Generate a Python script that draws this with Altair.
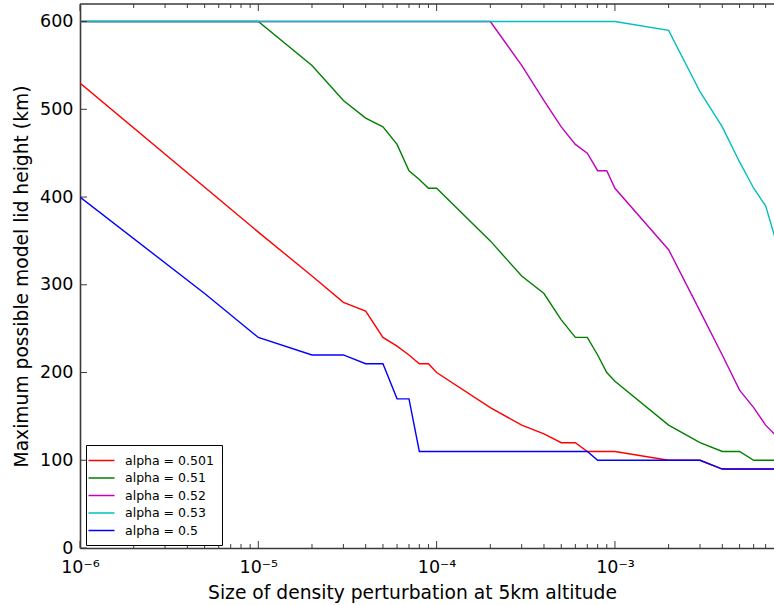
import altair as alt
import pandas as pd

# ---------------- data ----------------
series_names = ["alpha = 0.501", "alpha = 0.51", "alpha = 0.52", "alpha = 0.53", "alpha = 0.5"]
series_colors = ["#ff0000", "#008000", "#bf00bf", "#00bfbf", "#0000ff"]

red_x = [1e-6, 1e-5, 2e-5, 3e-5, 4e-5, 5e-5, 6e-5, 7e-5, 8e-5, 9e-5, 1e-4, 2e-4, 3e-4, 4e-4,
         5e-4, 6e-4, 7e-4, 8e-4, 9e-4, 1e-3, 2e-3, 3e-3, 4e-3, 8e-3]
red_y = [530, 360, 310, 280, 270, 240, 230, 220, 210, 210, 200, 160, 140, 130,
         120, 120, 110, 110, 110, 110, 100, 100, 90, 90]

green_x = [1e-6, 1e-5, 2e-5, 3e-5, 4e-5, 5e-5, 6e-5, 7e-5, 8e-5, 9e-5, 1e-4, 2e-4, 3e-4, 4e-4,
           5e-4, 6e-4, 7e-4, 8e-4, 9e-4, 1e-3, 2e-3, 3e-3, 4e-3, 5e-3, 6e-3, 8e-3]
green_y = [600, 600, 550, 510, 490, 480, 460, 430, 420, 410, 410, 350, 310, 290,
           260, 240, 240, 220, 200, 190, 140, 120, 110, 110, 100, 100]

magenta_x = [1e-6, 2e-4, 3e-4, 4e-4, 5e-4, 6e-4, 7e-4, 8e-4, 9e-4, 1e-3, 2e-3, 3e-3, 4e-3,
             5e-3, 6e-3, 7e-3, 8e-3]
magenta_y = [600, 600, 550, 510, 480, 460, 450, 430, 430, 410, 340, 270, 220,
             180, 160, 140, 128]

cyan_x = [1e-6, 1e-3, 2e-3, 3e-3, 4e-3, 5e-3, 6e-3, 7e-3, 8e-3]
cyan_y = [600, 600, 590, 520, 480, 440, 410, 390, 350]

blue_x = [1e-6, 5e-6, 1e-5, 2e-5, 3e-5, 4e-5, 5e-5, 6e-5, 7e-5, 8e-5, 7e-4, 8e-4, 3e-3, 4e-3, 8e-3]
blue_y = [400, 290, 240, 220, 220, 210, 210, 170, 170, 110, 110, 100, 100, 90, 90]

x_major_ticks = [1e-6, 1e-5, 1e-4, 1e-3]
x_tick_labels = ["10\u207b\u2076", "10\u207b\u2075", "10\u207b\u2074", "10\u207b\u00b3"]
x_minor_ticks = [k * d for d in [1e-6, 1e-5, 1e-4, 1e-3] for k in range(2, 10) if k * d <= 0.0078]
y_ticks = [0, 100, 200, 300, 400, 500, 600]

rows = []
for name, xs, ys in zip(series_names,
                        [red_x, green_x, magenta_x, cyan_x, blue_x],
                        [red_y, green_y, magenta_y, cyan_y, blue_y]):
    for xv, yv in zip(xs, ys):
        rows.append({"series": name, "x": xv, "y": yv})
df = pd.DataFrame(rows)

# ---------------- chart ----------------
W, H = 694, 544
FONT = "DejaVu Sans"
AX = "#3a3a3a"

xscale = alt.Scale(type="log", domain=[1e-6, 0.0078])
yscale = alt.Scale(domain=[0, 620])

label_expr = " : ".join(
    [f"datum.value < {v * 3:.0e} ? '{lab}'" for v, lab in zip(x_major_ticks[:-1], x_tick_labels[:-1])]
) + f" : '{x_tick_labels[-1]}'"

lines = alt.Chart(df).mark_line(strokeWidth=1.4, clip=True).encode(
    x=alt.X("x:Q", scale=xscale,
            axis=alt.Axis(values=x_major_ticks, labelExpr=label_expr, tickSize=0,
                          domainColor=AX, domainWidth=1.6, grid=False,
                          labelFont=FONT, labelFontSize=17.5, labelColor="black",
                          labelPadding=10, labelFlush=False, labelOverlap=False,
                          title="Size of density perturbation at 5km altitude",
                          titleFont=FONT, titleFontSize=18.7, titleFontWeight="normal",
                          titleColor="black", titleX=332, titleY=50,
                          titleAlign="center", titleBaseline="alphabetic")),
    y=alt.Y("y:Q", scale=yscale,
            axis=alt.Axis(values=y_ticks, tickSize=0, domainColor=AX, domainWidth=1.6,
                          grid=False, labelFont=FONT, labelFontSize=17.5, labelColor="black",
                          labelPadding=7, labelFlush=False, labelOverlap=False,
                          title="Maximum possible model lid height (km)",
                          titleFont=FONT, titleFontSize=18.7, titleFontWeight="normal",
                          titleColor="black", titleX=-53, titleY=272, titleAngle=270,
                          titleAlign="center", titleBaseline="alphabetic")),
    color=alt.Color("series:N",
                    scale=alt.Scale(domain=series_names, range=series_colors),
                    legend=alt.Legend(title=None, orient="none", legendX=6, legendY=441,
                                      symbolType="M-2,0L2,0", symbolSize=169,
                                      symbolStrokeWidth=1.5, labelFont=FONT,
                                      labelFontSize=12.5, labelColor="black",
                                      labelOffset=16, rowPadding=3.5, padding=8,
                                      strokeColor="black", fillColor="white",
                                      cornerRadius=0)),
)

tick_major_df = pd.DataFrame({"x": x_major_ticks})
tick_minor_df = pd.DataFrame({"x": x_minor_ticks})
ytick_df = pd.DataFrame({"y": y_ticks})

xb_major = alt.Chart(tick_major_df).mark_rule(color=AX, strokeWidth=1).encode(
    x=alt.X("x:Q", scale=xscale), y=alt.value(H), y2=alt.value(H - 7))
xb_minor = alt.Chart(tick_minor_df).mark_rule(color=AX, strokeWidth=1).encode(
    x=alt.X("x:Q", scale=xscale), y=alt.value(H), y2=alt.value(H - 4))
xt_major = alt.Chart(tick_major_df).mark_rule(color=AX, strokeWidth=1).encode(
    x=alt.X("x:Q", scale=xscale), y=alt.value(0), y2=alt.value(7))
xt_minor = alt.Chart(tick_minor_df).mark_rule(color=AX, strokeWidth=1).encode(
    x=alt.X("x:Q", scale=xscale), y=alt.value(0), y2=alt.value(4))
yl = alt.Chart(ytick_df).mark_rule(color=AX, strokeWidth=1).encode(
    y=alt.Y("y:Q", scale=yscale), x=alt.value(0), x2=alt.value(7))
top_line = alt.Chart(pd.DataFrame({"a": [0]})).mark_rule(color=AX, strokeWidth=1.6).encode(
    x=alt.value(0), x2=alt.value(W), y=alt.value(0))

chart = alt.layer(lines, xb_major, xb_minor, xt_major, xt_minor, yl, top_line).properties(
    width=W, height=H,
    autosize=alt.AutoSizeParams(type="none"),
    padding={"left": 80, "top": 4, "right": 0, "bottom": 57},
    background="white",
).configure_view(stroke=None)

chart.save("out.html", embed_options={"renderer": "svg", "actions": False})
